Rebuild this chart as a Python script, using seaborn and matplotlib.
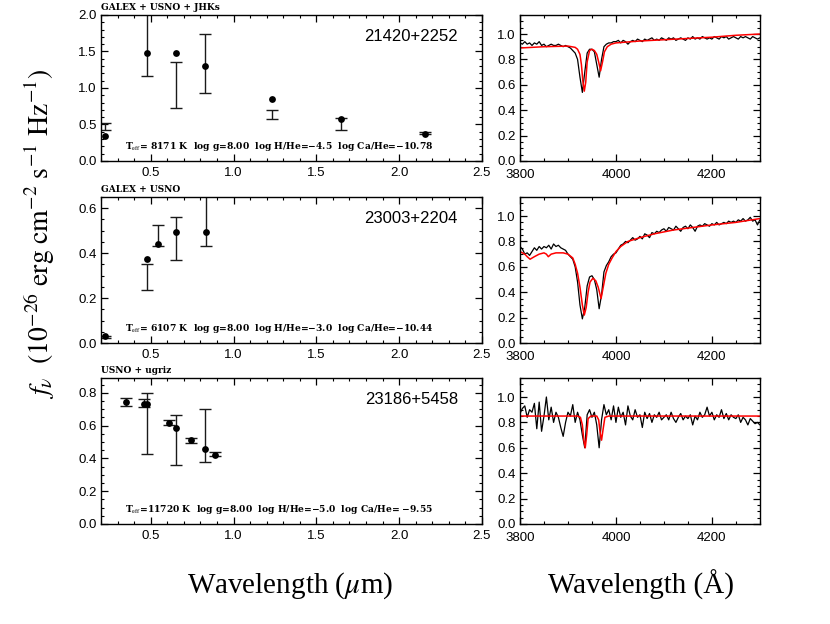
import numpy as np
import pandas as pd
import matplotlib
matplotlib.use('Agg')
import matplotlib.pyplot as plt
import seaborn as sns
from matplotlib.ticker import MultipleLocator, FormatStrFormatter

# --- Photometry (left column): wavelength in micron, flux in 1e-26 cgs ---
star_names = ['21420+2252', '23003+2204', '23186+5458']
phot_sources = ['GALEX + USNO + JHKs', 'GALEX + USNO', 'USNO + ugriz']
model_params = [
    r'T$_{\rm eff}$= 8171 K  log g=8.00  log H/He=−4.5  log Ca/He=−10.78',
    r'T$_{\rm eff}$= 6107 K  log g=8.00  log H/He=−3.0  log Ca/He=−10.44',
    r'T$_{\rm eff}$=11720 K  log g=8.00  log H/He=−5.0  log Ca/He= −9.55',
]

sed1_wave = [0.224, 0.479, 0.652, 0.830, 1.234, 1.650, 2.158]
sed1_obs = [0.475, 1.600, 1.046, 1.331, 0.633, 0.505, 0.380]
sed1_err = [0.050, 0.440, 0.315, 0.404, 0.062, 0.080, 0.015]
sed1_model = [0.347, 1.484, 1.484, 1.297, 0.854, 0.580, 0.370]

sed2_wave = [0.224, 0.479, 0.545, 0.652, 0.832]
sed2_obs = [0.025, 0.292, 0.479, 0.465, 0.550]
sed2_err = [0.004, 0.058, 0.047, 0.094, 0.120]
sed2_model = [0.030, 0.373, 0.442, 0.493, 0.493]

sed3_wave = [0.350, 0.461, 0.479, 0.610, 0.652, 0.742, 0.830, 0.887]
sed3_obs = [0.742, 0.737, 0.612, 0.618, 0.510, 0.508, 0.538, 0.424]
sed3_err = [0.024, 0.022, 0.184, 0.016, 0.152, 0.015, 0.160, 0.012]
sed3_model = [0.741, 0.731, 0.731, 0.618, 0.584, 0.513, 0.457, 0.418]

sed_ymax = [2.0, 0.65, 0.89]
sed_ymajor = [0.5, 0.2, 0.2]
sed_yminor = [0.1, 0.05, 0.05]

# --- Spectra (right column): observed on a 5 A grid from 3800 to 4300 A ---
spec_wave = list(range(3800, 4305, 5))

spec1_flux = [
    0.93, 0.92, 0.94, 0.92, 0.93, 0.91, 0.93, 0.92, 0.94, 0.91,
    0.92, 0.90, 0.91, 0.92, 0.91, 0.91, 0.92, 0.91, 0.90, 0.91,
    0.90, 0.89, 0.87, 0.85, 0.80, 0.66, 0.54, 0.70, 0.85, 0.88,
    0.88, 0.86, 0.76, 0.66, 0.80, 0.90, 0.92, 0.93, 0.93, 0.94,
    0.94, 0.95, 0.93, 0.95, 0.94, 0.92, 0.94, 0.95, 0.94, 0.96,
    0.95, 0.94, 0.96, 0.95, 0.96, 0.97, 0.95, 0.96, 0.95, 0.97,
    0.96, 0.95, 0.97, 0.96, 0.97, 0.95, 0.96, 0.97, 0.96, 0.95,
    0.97, 0.96, 0.98, 0.96, 0.97, 0.96, 0.98, 0.97, 0.96, 0.97,
    0.96, 0.98, 0.97, 0.96, 0.98, 0.97, 0.98, 0.96, 0.97, 0.98,
    0.97, 0.96, 0.98, 0.97, 0.98, 0.97, 0.96, 0.98, 0.97, 0.96,
    0.97,
]
spec2_flux = [
    0.76, 0.74, 0.70, 0.71, 0.69, 0.72, 0.75, 0.73, 0.76, 0.74,
    0.76, 0.75, 0.77, 0.74, 0.78, 0.76, 0.77, 0.75, 0.74, 0.73,
    0.70, 0.68, 0.66, 0.60, 0.48, 0.30, 0.19, 0.28, 0.45, 0.52,
    0.53, 0.50, 0.42, 0.27, 0.38, 0.56, 0.61, 0.64, 0.68, 0.70,
    0.71, 0.74, 0.77, 0.78, 0.80, 0.79, 0.81, 0.83, 0.81, 0.82,
    0.84, 0.82, 0.86, 0.85, 0.83, 0.87, 0.86, 0.88, 0.87, 0.89,
    0.90, 0.88, 0.91, 0.90, 0.89, 0.92, 0.90, 0.88, 0.91, 0.92,
    0.90, 0.93, 0.91, 0.88, 0.92, 0.93, 0.92, 0.94, 0.93, 0.92,
    0.94, 0.93, 0.95, 0.93, 0.94, 0.95, 0.94, 0.96, 0.95, 0.96,
    0.95, 0.97, 0.96, 0.98, 0.96, 0.97, 0.99, 0.96, 0.97, 0.93,
    0.97,
]
spec3_flux = [
    0.87, 0.91, 0.93, 0.84, 0.90, 0.88, 0.95, 0.75, 0.96, 0.73,
    0.85, 1.00, 0.82, 0.92, 0.80, 0.88, 0.84, 0.76, 0.69, 0.80,
    0.88, 0.85, 0.94, 0.80, 0.88, 0.82, 0.70, 0.60, 0.86, 0.90,
    0.84, 0.88, 0.78, 0.60, 0.82, 0.94, 0.86, 0.90, 0.82, 0.93,
    0.80, 0.92, 0.84, 0.88, 0.78, 0.93, 0.85, 0.82, 0.90, 0.84,
    0.86, 0.76, 0.88, 0.83, 0.87, 0.80, 0.86, 0.84, 0.88, 0.82,
    0.84, 0.86, 0.82, 0.88, 0.83, 0.80, 0.84, 0.87, 0.82, 0.85,
    0.83, 0.86, 0.78, 0.85, 0.82, 0.88, 0.84, 0.86, 0.92, 0.85,
    0.88, 0.82, 0.86, 0.84, 0.90, 0.83, 0.87, 0.82, 0.86, 0.84,
    0.83, 0.86, 0.80, 0.84, 0.82, 0.78, 0.83, 0.81, 0.79, 0.80,
    0.78,
]

# model spectra, denser sampling around Ca II H & K
model1_wave = [3800, 3850, 3900, 3915, 3920, 3925, 3928, 3931, 3934, 3937, 3940,
               3945, 3950, 3955, 3960, 3964, 3968, 3972, 3976, 3982, 3990, 4000,
               4050, 4100, 4150, 4200, 4250, 4300]
model1_flux = [0.89, 0.90, 0.905, 0.895, 0.88, 0.84, 0.76, 0.63, 0.55, 0.62, 0.78,
               0.87, 0.88, 0.87, 0.84, 0.78, 0.71, 0.78, 0.86, 0.90, 0.92, 0.93,
               0.945, 0.955, 0.965, 0.975, 0.99, 1.0]

model2_wave = [3800, 3810, 3815, 3821, 3830, 3840, 3850, 3855, 3859, 3865, 3875,
               3890, 3900, 3910, 3915, 3920, 3925, 3930, 3934, 3938, 3942, 3946,
               3952, 3958, 3963, 3969, 3974, 3979, 3985, 3992, 4000, 4010, 4025,
               4050, 4080, 4120, 4160, 4200, 4250, 4300]
model2_flux = [0.72, 0.70, 0.68, 0.66, 0.68, 0.70, 0.71, 0.70, 0.68, 0.70, 0.71,
               0.71, 0.70, 0.67, 0.62, 0.55, 0.44, 0.30, 0.22, 0.28, 0.40, 0.48,
               0.51, 0.49, 0.44, 0.35, 0.45, 0.55, 0.62, 0.67, 0.72, 0.76, 0.80,
               0.83, 0.86, 0.89, 0.91, 0.93, 0.95, 0.98]

model3_wave = [3800, 3920, 3926, 3930, 3933, 3936, 3939, 3942, 3948, 3960, 3964,
               3967, 3970, 3973, 3977, 3985, 4300]
model3_flux = [0.85, 0.85, 0.84, 0.78, 0.66, 0.60, 0.70, 0.83, 0.85, 0.85, 0.82,
               0.72, 0.66, 0.74, 0.84, 0.85, 0.85]

seds = [
    (sed1_wave, sed1_obs, sed1_err, sed1_model),
    (sed2_wave, sed2_obs, sed2_err, sed2_model),
    (sed3_wave, sed3_obs, sed3_err, sed3_model),
]
spectra = [
    (spec1_flux, model1_wave, model1_flux),
    (spec2_flux, model2_wave, model2_flux),
    (spec3_flux, model3_wave, model3_flux),
]

# --- Style ---
sns.set_theme(style='ticks')
plt.rcParams['font.family'] = ['Liberation Sans', 'DejaVu Sans']
plt.rcParams['mathtext.fontset'] = 'stix'
plt.rcParams['axes.linewidth'] = 1.0
for key in ['text.color', 'axes.labelcolor', 'xtick.color', 'ytick.color',
            'axes.edgecolor', 'xtick.labelcolor', 'ytick.labelcolor']:
    plt.rcParams[key] = 'black'

SMALL_FONT = ['DejaVu Serif', 'Liberation Serif']


def style_axes(ax, xmaj, xmin, ymaj, ymin):
    ax.xaxis.set_major_locator(MultipleLocator(xmaj))
    ax.xaxis.set_minor_locator(MultipleLocator(xmin))
    ax.yaxis.set_major_locator(MultipleLocator(ymaj))
    ax.yaxis.set_minor_locator(MultipleLocator(ymin))
    ax.tick_params(which='both', direction='in', top=True, right=True,
                   colors='black', labelcolor='black', labelsize=9.5)
    ax.tick_params(which='major', length=5, width=0.9)
    ax.tick_params(which='minor', length=2.5, width=0.8)
    ax.tick_params(axis='x', which='major', pad=4)
    ax.tick_params(axis='y', which='major', pad=3)
    ax.set_xlabel('')
    ax.set_ylabel('')


fig = plt.figure(figsize=(8.3, 6.24), dpi=100)
row_bottoms = [0.742, 0.4503, 0.1603]
row_h = 0.234

for i in range(3):
    # left: photometry vs model fluxes
    ax = fig.add_axes([0.1217, row_bottoms[i], 0.459, row_h])
    wave, obs, err, model = seds[i]
    df = pd.DataFrame({'wave': wave, 'obs': obs, 'err': err, 'model': model})
    ax.errorbar(df['wave'], df['obs'], yerr=df['err'], fmt='none',
                ecolor='#1a1a1a', elinewidth=1.0, capsize=4, capthick=1.0)
    sns.scatterplot(data=df, x='wave', y='model', ax=ax, color='black',
                    s=24, edgecolor='black', linewidth=0, zorder=3)
    ax.set_xlim(0.2, 2.5)
    ax.set_ylim(0, sed_ymax[i])
    style_axes(ax, 0.5, 0.1, sed_ymajor[i], sed_yminor[i])
    ax.xaxis.set_major_formatter(FormatStrFormatter('%.1f'))
    ax.yaxis.set_major_formatter(FormatStrFormatter('%.1f'))
    ax.text(0.0, 1.02, phot_sources[i], transform=ax.transAxes, ha='left',
            va='bottom', fontsize=6.5, fontweight='bold', family=SMALL_FONT)
    ax.text(0.937, 0.85, star_names[i], transform=ax.transAxes, ha='right',
            va='center', fontsize=12)
    ax.text(0.063, 0.096, model_params[i], transform=ax.transAxes, ha='left',
            va='center', fontsize=6.6, fontweight='bold', family=SMALL_FONT)

    # right: normalised spectra with model fit
    axr = fig.add_axes([0.6265, row_bottoms[i], 0.289, row_h])
    flux, mwave, mflux = spectra[i]
    obs_df = pd.DataFrame({'wave': spec_wave, 'flux': flux})
    mod_df = pd.DataFrame({'wave': mwave, 'flux': mflux})
    sns.lineplot(data=obs_df, x='wave', y='flux', ax=axr, color='black',
                 linewidth=0.9, sort=False)
    sns.lineplot(data=mod_df, x='wave', y='flux', ax=axr, color='red',
                 linewidth=1.1, sort=False)
    axr.set_xlim(3800, 4300)
    axr.set_ylim(0, 1.15)
    style_axes(axr, 200, 50, 0.2, 0.05)
    axr.yaxis.set_major_formatter(FormatStrFormatter('%.1f'))
    axr.tick_params(axis='x', which='major', pad=5.5)

fig.text(0.35, 0.062, r'Wavelength ($\mu$m)', ha='center', va='center',
         fontsize=21, family=['Liberation Serif', 'DejaVu Serif'])
fig.text(0.772, 0.062, 'Wavelength (Å)', ha='center', va='center',
         fontsize=21, family=['Liberation Serif', 'DejaVu Serif'])
fig.text(0.048, 0.625,
         r'$f_\nu\ \ (10^{-26}\ \mathrm{erg\ cm^{-2}\ s^{-1}\ Hz^{-1}})$',
         rotation=90, ha='center', va='center', fontsize=20)

fig.savefig('out.png', dpi=100)
